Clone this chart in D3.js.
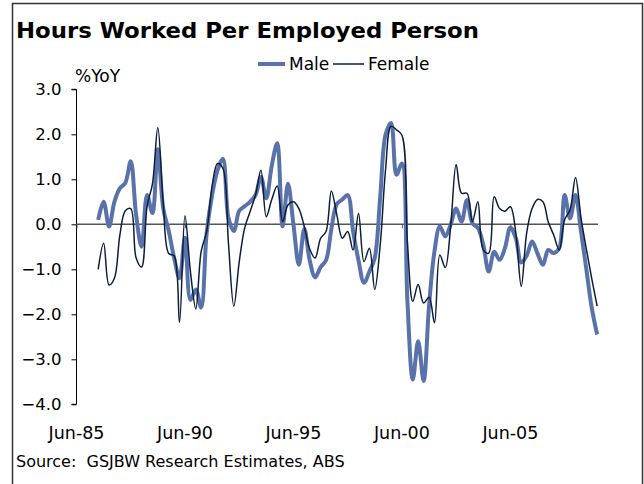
<!DOCTYPE html>
<html>
<head>
<meta charset="utf-8">
<script src="https://cdn.jsdelivr.net/npm/d3@7"></script>
<style>
  body { margin: 0; background: #fff; }
  text { font-family: Verdana, "DejaVu Sans", sans-serif; white-space: pre; }
</style>
</head>
<body>
<script>
// quarterly series, Jun-86 .. Jun-09, %YoY
var male = [
   0.10,  0.50, -0.05,  0.50,  0.80,  0.92,  1.40,  0.20, -0.50,  0.65,
   0.25,  1.67,  0.35, -0.15, -0.75, -1.20, -0.30, -1.68, -1.45, -1.85,
  -0.20,  0.65,  1.20,  1.45,  0.15, -0.15,  0.30,  0.40,  0.50,  0.65,
   1.05,  0.58,  1.30,  1.80, -0.05,  0.90,  0.00, -0.90, -0.10, -0.80,
  -1.18, -0.95, -0.80, -0.10,  0.45,  0.55,  0.65, -0.15, -0.80, -1.30,
  -1.05, -0.75,  0.60,  2.00,  2.25,  1.10,  1.35, -1.70, -3.45, -2.60,
  -3.48, -1.80, -0.60, -0.05, -0.27,  0.00,  0.35,  0.06,  0.54,  0.02,
  -0.08, -0.45, -1.05, -0.61, -0.79, -0.53, -0.07, -0.31, -0.85, -0.70,
  -0.38, -0.65, -0.90, -0.57, -0.64, -0.53,  0.65,  0.13,  0.65, -0.15,
  -1.00, -1.85, -2.45
];
var female = [
  -1.00, -0.42, -1.35, -1.20, -0.24,  0.30,  0.35, -0.75, -0.95,  0.40,
   0.90,  2.15,  0.45, -0.65, -0.70, -2.18,  0.19, -1.05, -1.88, -0.60,
  -0.16,  0.85,  1.35,  1.24, -0.40, -1.82, -0.83, -0.09,  0.28,  0.65,
   1.20,  0.17,  0.55,  0.85,  0.06,  0.43,  0.50,  0.35, -0.05, -0.55,
  -0.75, -0.31, -0.16,  0.74,  0.21, -0.31, -0.16, -0.57,  0.24, -0.83,
  -0.53, -1.45, -0.46,  1.24,  2.18,  2.10,  1.98, -0.40, -1.71, -1.34,
  -1.75, -1.62, -2.19, -0.68, -0.96, -0.02,  1.33,  0.69,  0.69,  0.06,
   0.50, -0.57, -0.64,  0.61,  0.35,  0.29,  0.39, -0.20, -1.38, -0.20,
   0.35,  0.55,  0.50,  0.05, -0.24, -0.57,  0.10,  0.32,  1.04,  0.15,
  -0.55, -1.20, -1.82
];
var firstQuarter = new Date(1986, 5, 1);
var dates = d3.range(male.length).map(function(i) { return d3.timeMonth.offset(firstQuarter, 3 * i); });

var yTicks = [3, 2, 1, 0, -1, -2, -3, -4];
var xTickDates = [new Date(1985, 5, 1), new Date(1990, 5, 1), new Date(1995, 5, 1), new Date(2000, 5, 1), new Date(2005, 5, 1)];
var xTickFormat = d3.timeFormat("%b-%y");
var seriesNames = ["Male", "Female"];

var width = 644, height = 484;

var svg = d3.select("body").append("svg")
    .attr("width", width)
    .attr("height", height);

// outer frame
svg.append("path")
    .attr("d", "M12.5,500 V3.5 H642.5 V500")
    .attr("fill", "none")
    .attr("stroke", "#333")
    .attr("stroke-width", 1.5);

svg.append("text")
    .attr("x", 16).attr("y", 38)
    .attr("font-size", 22).attr("font-weight", "bold")
    .attr("textLength", 463).attr("lengthAdjust", "spacingAndGlyphs")
    .text("Hours Worked Per Employed Person");

var x = d3.scaleTime()
    .domain([new Date(1985, 5, 1), new Date(2009, 5, 15)])
    .range([76.5, 598]);

var y = d3.scaleLinear()
    .domain([-4, 3])
    .range([404.3, 89.3]);

// y axis
var yAxis = svg.append("g")
    .attr("transform", "translate(" + x.range()[0] + ",0)")
    .call(d3.axisLeft(y).tickValues(yTicks).tickSize(5).tickPadding(10).tickFormat(d3.format(".1f")));
yAxis.select(".domain").attr("d", "M-5," + y(3) + "H0V" + y(-4) + "H-5").attr("stroke", "#000");
yAxis.selectAll("text").attr("font-size", 16.5).attr("fill", "#000");
yAxis.selectAll(".tick line").attr("stroke", "#000");

svg.append("text")
    .attr("x", 75).attr("y", 82)
    .attr("font-size", 17)
    .text("%YoY");

// zero line with ticks
var xAxis = svg.append("g")
    .attr("transform", "translate(0," + y(0) + ")")
    .call(d3.axisBottom(x).tickValues(xTickDates).tickSize(4).tickFormat(""));
xAxis.select(".domain").attr("d", "M" + x.range()[0] + ",0H" + x.range()[1]).attr("stroke", "#555").attr("stroke-width", 1.5);
xAxis.selectAll(".tick line").attr("stroke", "#555");

// x labels
svg.append("g").selectAll("text")
    .data(xTickDates)
    .enter().append("text")
    .attr("x", function(d) { return x(d); })
    .attr("y", 438.5)
    .attr("text-anchor", "middle")
    .attr("font-size", 17.5)
    .text(function(d) { return xTickFormat(d); });

var line = d3.line()
    .x(function(d, i) { return x(dates[i]); })
    .y(function(d) { return y(d); })
    .curve(d3.curveCatmullRom.alpha(0.5));

svg.append("path")
    .datum(male)
    .attr("d", line)
    .attr("fill", "none")
    .attr("stroke", "#5a72aa")
    .attr("stroke-width", 4)
    .attr("stroke-linejoin", "round");

svg.append("path")
    .datum(female)
    .attr("d", line)
    .attr("fill", "none")
    .attr("stroke", "#0b1e3c")
    .attr("stroke-width", 1.5)
    .attr("stroke-linejoin", "round");

// legend
var legend = svg.append("g").attr("transform", "translate(258,64)");
var legendItems = [
  { name: seriesNames[0], color: "#5a72aa", w: 4, x: 0, len: 27 },
  { name: seriesNames[1], color: "#0b1e3c", w: 1.5, x: 75, len: 31 }
];
legendItems.forEach(function(d) {
  legend.append("line")
      .attr("x1", d.x).attr("x2", d.x + d.len).attr("y1", 0).attr("y2", 0)
      .attr("stroke", d.color).attr("stroke-width", d.w);
  legend.append("text")
      .attr("x", d.x + d.len + 4).attr("y", 6)
      .attr("font-size", 17)
      .text(d.name);
});

svg.append("text")
    .attr("x", 16).attr("y", 467)
    .attr("font-size", 16)
    .text("Source:  GSJBW Research Estimates, ABS");
</script>
</body>
</html>
